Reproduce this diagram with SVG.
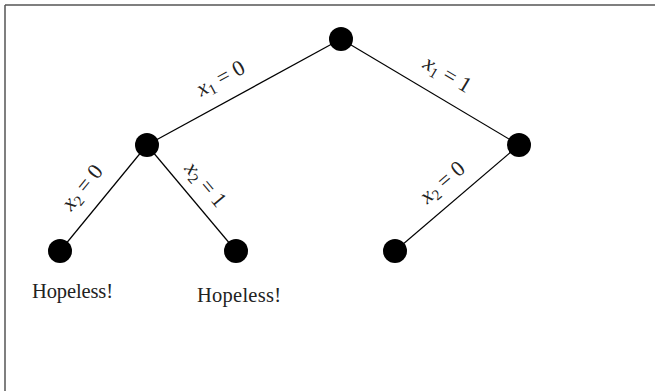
<svg xmlns="http://www.w3.org/2000/svg" width="655" height="391" viewBox="0 0 655 391">
<style>
.edge{stroke:#000;stroke-width:1.2;fill:none}
.node{fill:#000}
.lbl{font-family:"Liberation Serif",serif;font-size:22px;fill:#222;text-anchor:middle}
.v{font-style:italic}
.sub{font-size:15px}
.hl{font-family:"Liberation Serif",serif;font-size:20.5px;fill:#222}
</style>
<rect width="655" height="391" fill="#fff"/>
<g id="frame" stroke="#555" stroke-width="1.5">
<line x1="5" y1="5" x2="655" y2="5"/>
<line x1="5" y1="5" x2="5" y2="391"/>
</g>
<g id="connectors">
<line class="edge" x1="341" y1="39" x2="147" y2="145"/>
<line class="edge" x1="341" y1="39" x2="519" y2="145"/>
<line class="edge" x1="147" y1="145" x2="60" y2="251"/>
<line class="edge" x1="147" y1="145" x2="236" y2="251"/>
<line class="edge" x1="519" y1="145" x2="395" y2="251"/>
<text class="lbl" transform="translate(221,79) rotate(-28.6)" y="6"><tspan class="v">x</tspan><tspan class="sub" dy="4">1</tspan><tspan dy="-4"> = 0</tspan></text>
<text class="lbl" transform="translate(447,75) rotate(30.8)" y="6"><tspan class="v">x</tspan><tspan class="sub" dy="4">1</tspan><tspan dy="-4"> = 1</tspan></text>
<text class="lbl" transform="translate(83,188) rotate(-50.6)" y="6"><tspan class="v">x</tspan><tspan class="sub" dy="4">2</tspan><tspan dy="-4"> = 0</tspan></text>
<text class="lbl" transform="translate(205,185) rotate(50)" y="6"><tspan class="v">x</tspan><tspan class="sub" dy="4">2</tspan><tspan dy="-4"> = 1</tspan></text>
<text class="lbl" transform="translate(443,183) rotate(-40.8)" y="6"><tspan class="v">x</tspan><tspan class="sub" dy="4">2</tspan><tspan dy="-4"> = 0</tspan></text>
</g>
<g id="root"><circle class="node" cx="341" cy="39" r="12"/></g>
<g id="n0"><circle class="node" cx="147" cy="145" r="12"/></g>
<g id="n1"><circle class="node" cx="519" cy="145" r="12"/></g>
<g id="n00"><circle class="node" cx="60" cy="251" r="12"/><text class="hl" x="32" y="298" textLength="81">Hopeless!</text></g>
<g id="n01"><circle class="node" cx="236" cy="251" r="12"/><text class="hl" x="197" y="302" textLength="84">Hopeless!</text></g>
<g id="n10"><circle class="node" cx="395" cy="251" r="12"/></g>
</svg>
